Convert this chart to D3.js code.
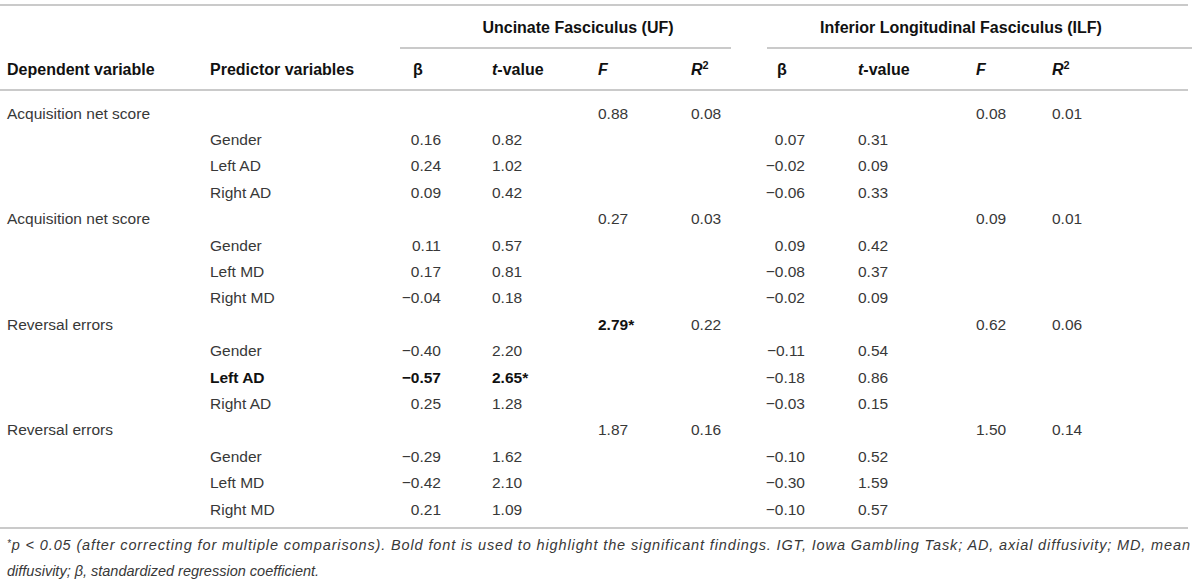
<!DOCTYPE html>
<html><head><meta charset="utf-8">
<script src="https://cdnjs.cloudflare.com/ajax/libs/d3/7.8.5/d3.min.js"></script>
<style>
html,body{margin:0;padding:0;background:#fff;}
svg{display:block;}
</style>
</head><body>
<svg id="chart" width="1200" height="581"></svg>
<script>
const groupTitles = ["Uncinate Fasciculus (UF)", "Inferior Longitudinal Fasciculus (ILF)"];
const depVars = ["Acquisition net score", "Acquisition net score", "Reversal errors", "Reversal errors"];
const predictors = [["Gender","Left AD","Right AD"],["Gender","Left MD","Right MD"],["Gender","Left AD","Right AD"],["Gender","Left MD","Right MD"]];
const ufF  = ["0.88","0.27","2.79*","1.87"];
const ufR2 = ["0.08","0.03","0.22","0.16"];
const ilfF  = ["0.08","0.09","0.62","1.50"];
const ilfR2 = ["0.01","0.01","0.06","0.14"];
const ufBeta = [["0.16","0.24","0.09"],["0.11","0.17","−0.04"],["−0.40","−0.57","0.25"],["−0.29","−0.42","0.21"]];
const ufT    = [["0.82","1.02","0.42"],["0.57","0.81","0.18"],["2.20","2.65*","1.28"],["1.62","2.10","1.09"]];
const ilfBeta = [["0.07","−0.02","−0.06"],["0.09","−0.08","−0.02"],["−0.11","−0.18","−0.03"],["−0.10","−0.30","−0.10"]];
const ilfT    = [["0.31","0.09","0.33"],["0.42","0.37","0.09"],["0.54","0.86","0.15"],["0.52","1.59","0.57"]];
const boldF = [[0,2]];     // [table (0 UF, 1 ILF), group]
const boldPred = [[2,1]];  // [group, predictor]
const footnote1 = "p < 0.05 (after correcting for multiple comparisons). Bold font is used to highlight the significant findings. IGT, Iowa Gambling Task; AD, axial diffusivity; MD, mean";
const footnote2 = "diffusivity; β, standardized regression coefficient.";

const svg = d3.select("#chart");
const FONT = "'Liberation Sans', Arial, Helvetica, sans-serif";
const FS = 15.5;
const FSB = 16;
const TXT = "#383838";
const LINE = "#b8b8b8";

const colX = d3.scaleOrdinal()
  .domain(["dep","pred","ufB","ufT","ufF","ufR","ilfB","ilfT","ilfF","ilfR"])
  .range([7, 210, 441, 492, 598, 691, 805, 858, 976, 1052]);
const headX = {ufB:413, ilfB:777};

const nRows = depVars.length * 4;
const y = d3.scalePoint().domain(d3.range(nRows)).range([113, 509]);

const g = svg.append("g").attr("font-family", FONT).attr("font-size", FS);

function hline(x1,x2,yy){
  g.append("line").attr("x1",x1).attr("x2",x2).attr("y1",yy).attr("y2",yy)
    .attr("stroke",LINE).attr("stroke-width",1.6);
}
hline(0,1188,5);
hline(400,731,48);
hline(767,1192,48);
hline(0,1188,90);
hline(0,1188,528);

function text(x, yy, s, opts={}){
  return g.append("text").attr("x",x).attr("y",yy).attr("dy","0.36em")
    .attr("fill", opts.bold ? "#111" : TXT)
    .attr("font-weight", opts.bold ? "bold" : null)
    .attr("font-size", opts.size || null)
    .attr("text-anchor", opts.anchor || "start")
    .text(s);
}

text(578, 27, groupTitles[0], {bold:true, anchor:"middle", size:FSB});
text(961, 27, groupTitles[1], {bold:true, anchor:"middle", size:FSB});

const hy = 69;
text(colX("dep"), hy, "Dependent variable", {bold:true, size:FSB});
text(colX("pred"), hy, "Predictor variables", {bold:true, size:FSB});
function betaHead(x){ text(x, hy, "β", {bold:true, size:FSB}); }
function tHead(x){
  const t = text(x, hy, "", {bold:true, size:FSB});
  t.append("tspan").attr("font-style","italic").text("t");
  t.append("tspan").text("-value");
}
function fHead(x){ text(x, hy, "F", {bold:true, size:FSB}).attr("font-style","italic"); }
function rHead(x){
  const t = text(x, hy, "", {bold:true, size:FSB});
  t.append("tspan").attr("font-style","italic").text("R");
  t.append("tspan").attr("font-size", FSB*0.68).attr("dy","-0.55em").text("2");
}
betaHead(headX.ufB); tHead(colX("ufT")); fHead(colX("ufF")); rHead(colX("ufR"));
betaHead(headX.ilfB); tHead(colX("ilfT")); fHead(colX("ilfF")); rHead(colX("ilfR"));

depVars.forEach((dv, gi) => {
  const r0 = gi*4;
  text(colX("dep"), y(r0), dv);
  const isBoldF = boldF.some(b => b[0]===0 && b[1]===gi);
  text(colX("ufF"), y(r0), ufF[gi], {bold:isBoldF});
  text(colX("ufR"), y(r0), ufR2[gi]);
  text(colX("ilfF"), y(r0), ilfF[gi]);
  text(colX("ilfR"), y(r0), ilfR2[gi]);
  predictors[gi].forEach((p, pi) => {
    const r = r0 + 1 + pi;
    const b = boldPred.some(q => q[0]===gi && q[1]===pi);
    text(colX("pred"), y(r), p, {bold:b});
    text(colX("ufB"), y(r), ufBeta[gi][pi], {bold:b, anchor:"end"});
    text(colX("ufT"), y(r), ufT[gi][pi], {bold:b});
    text(colX("ilfB"), y(r), ilfBeta[gi][pi], {anchor:"end"});
    text(colX("ilfT"), y(r), ilfT[gi][pi]);
  });
});

const fn = g.append("text").attr("x",7).attr("y",549).attr("dy","0.36em")
  .attr("font-size",14.5).attr("font-style","italic").attr("fill",TXT)
  .attr("textLength",1183).attr("lengthAdjust","spacing");
fn.append("tspan").attr("font-size",10).attr("dy","-0.2em").text("*");
fn.append("tspan").attr("dy","0.2em").text(footnote1);
g.append("text").attr("x",7).attr("y",571).attr("dy","0.36em")
  .attr("font-size",14.5).attr("font-style","italic").attr("fill",TXT)
  .text(footnote2);
</script>
</body></html>
